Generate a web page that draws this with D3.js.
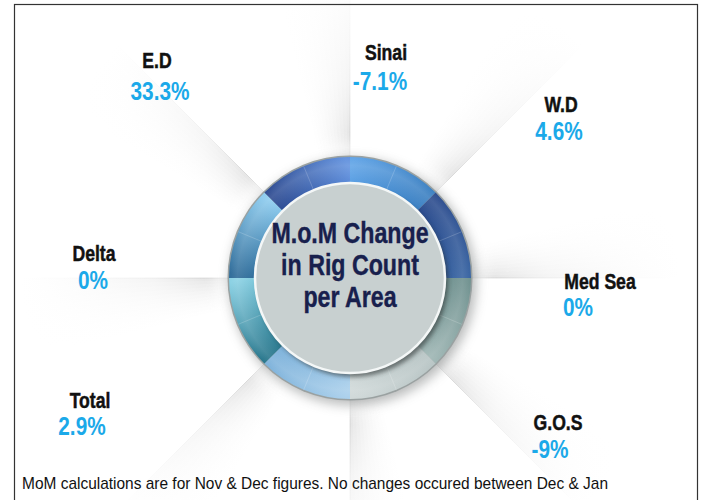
<!DOCTYPE html>
<html>
<head>
<meta charset="utf-8">
<script src="https://cdn.jsdelivr.net/npm/d3@7"></script>
<style>
  body { margin: 0; background: #fff; }
  svg { display: block; font-family: 'Liberation Sans', Arial, sans-serif; }
</style>
</head>
<body>
<div id="chart"></div>
<script>
// data
const areas = ["E.D", "Sinai", "W.D", "Med Sea", "G.O.S", "Total", "Delta"];
const momChange = [33.3, -7.1, 4.6, 0, -9, 2.9, 0];
const ringSectors = ["N-NE", "NE-E", "E-SE", "SE-S", "S-SW", "SW-W", "W-NW", "NW-N"];
const centerTitle = ["M.o.M Change", "in Rig Count", "per Area"];
const footnote = "MoM calculations are for Nov & Dec figures. No changes occured between Dec & Jan";

// layout / styles
const W = 709, H = 500;
const cx = 350, cy = 278, rInner = 95, rOuter = 121;
const narrow = 0.8; // horizontal squeeze to mimic a condensed face
// label anchor: [x, baseline y, value x, value baseline y]
const labelPos = {
    "E.D":     [157, 68, 160, 100],
    "Sinai":   [386, 60, 380, 90],
    "W.D":     [561, 112, 559, 140],
    "Med Sea": [600, 289, 578, 316],
    "G.O.S":   [558, 430, 550, 458],
    "Total":   [90, 408, 82, 435],
    "Delta":   [94, 261, 93, 289]
};
const sectorColors = [
    ["#5fa3e6", "#3a7fc1"],
    ["#2b4b8d", "#3561a0"],
    ["#6e908e", "#9cb4b2"],
    ["#b7c4c4", "#cfd8d8"],
    ["#a9cfeb", "#7cb1da"],
    ["#25758b", "#88d0e3"],
    ["#2c6a98", "#8ccbee"],
    ["#2c4a91", "#6191de"]
];

const svg = d3.select("#chart").append("svg")
    .attr("width", W)
    .attr("height", H);

const defs = svg.append("defs");

// blur filters
defs.append("filter").attr("id", "blur6")
    .attr("x", "-30%").attr("y", "-30%").attr("width", "160%").attr("height", "160%")
    .append("feGaussianBlur").attr("stdDeviation", 6);
defs.append("filter").attr("id", "blur2")
    .attr("x", "-20%").attr("y", "-20%").attr("width", "140%").attr("height", "140%")
    .append("feGaussianBlur").attr("stdDeviation", 2);

// fade for the background beams (centre of the g below)
const beamGrad = defs.append("radialGradient")
    .attr("id", "beamFade")
    .attr("gradientUnits", "userSpaceOnUse")
    .attr("cx", 0).attr("cy", 0).attr("r", 330);
beamGrad.append("stop").attr("offset", 0.36).attr("stop-color", "#8e8e8e").attr("stop-opacity", 0.6);
beamGrad.append("stop").attr("offset", 0.6).attr("stop-color", "#bdbdbd").attr("stop-opacity", 0.3);
beamGrad.append("stop").attr("offset", 1).attr("stop-color", "#dddddd").attr("stop-opacity", 0);

svg.append("rect").attr("width", W).attr("height", H).attr("fill", "#fff");

const g = svg.append("g").attr("transform", `translate(${cx},${cy})`);

const pie = d3.pie().value(1).sort(null);
const sectors = pie(ringSectors);

// background beams along every sector edge
const beamSlices = d3.range(12);
const beamArc = d3.arc().innerRadius(rOuter).outerRadius(420);
sectors.forEach(s => {
    const a = s.startAngle;
    g.append("g").selectAll("path")
        .data(beamSlices)
        .join("path")
        .attr("d", i => beamArc({ startAngle: a - (i + 1) * 0.022, endAngle: a - i * 0.022 }))
        .attr("fill", "url(#beamFade)")
        .attr("fill-opacity", i => 0.5 * Math.pow(1 - i / 12, 1.8));
    // crease line
    g.append("line")
        .attr("x1", Math.sin(a) * rOuter).attr("y1", -Math.cos(a) * rOuter)
        .attr("x2", Math.sin(a) * 420).attr("y2", -Math.cos(a) * 420)
        .attr("stroke", "url(#beamFade)")
        .attr("stroke-width", 1)
        .attr("stroke-opacity", 0.6);
});

// soft halo + shadow behind the ring
g.append("circle").attr("r", rOuter + 16).attr("fill", "#fff").attr("opacity", 0.6).attr("filter", "url(#blur6)");
g.append("circle").attr("r", rOuter + 2).attr("cx", 3).attr("cy", 4)
    .attr("fill", "#6f7373").attr("opacity", 0.5).attr("filter", "url(#blur6)");
g.append("circle").attr("r", rOuter + 1.5).attr("fill", "#9aa1a1");

// ring sectors
const arc = d3.arc().innerRadius(rInner - 4).outerRadius(rOuter);
const rMid = (rInner + rOuter) / 2;
sectors.forEach((s, i) => {
    const gr = defs.append("linearGradient")
        .attr("id", "sec" + i)
        .attr("gradientUnits", "userSpaceOnUse")
        .attr("x1", Math.sin(s.startAngle) * rMid).attr("y1", -Math.cos(s.startAngle) * rMid)
        .attr("x2", Math.sin(s.endAngle) * rMid).attr("y2", -Math.cos(s.endAngle) * rMid);
    gr.append("stop").attr("offset", 0).attr("stop-color", sectorColors[i][0]);
    gr.append("stop").attr("offset", 1).attr("stop-color", sectorColors[i][1]);
});
g.append("g").selectAll("path")
    .data(sectors)
    .join("path")
    .attr("d", arc)
    .attr("fill", (d, i) => `url(#sec${i})`);

// light outer band on each sector
const gloss = defs.append("radialGradient")
    .attr("id", "gloss")
    .attr("gradientUnits", "userSpaceOnUse")
    .attr("cx", 0).attr("cy", 0).attr("r", rOuter);
gloss.append("stop").attr("offset", 0.8).attr("stop-color", "#fff").attr("stop-opacity", 0);
gloss.append("stop").attr("offset", 0.93).attr("stop-color", "#fff").attr("stop-opacity", 0.12);
gloss.append("stop").attr("offset", 1).attr("stop-color", "#fff").attr("stop-opacity", 0.02);
g.append("circle").attr("r", rOuter).attr("fill", "url(#gloss)");

// faint grid lines in the ring
g.append("g").selectAll("line")
    .data(sectors)
    .join("line")
    .attr("x1", d => Math.sin((d.startAngle + d.endAngle) / 2) * rInner)
    .attr("y1", d => -Math.cos((d.startAngle + d.endAngle) / 2) * rInner)
    .attr("x2", d => Math.sin((d.startAngle + d.endAngle) / 2) * rOuter)
    .attr("y2", d => -Math.cos((d.startAngle + d.endAngle) / 2) * rOuter)
    .attr("stroke", "#fff")
    .attr("stroke-opacity", 0.18);

// inner disc with shadow (falls to the lower right)
g.append("circle").attr("r", rInner).attr("cx", 3).attr("cy", 4)
    .attr("fill", "#2f3535").attr("opacity", 0.6).attr("filter", "url(#blur2)");
g.append("circle").attr("r", rInner)
    .attr("fill", "#c8d0d0")
    .attr("stroke", "#f4f7f7")
    .attr("stroke-width", 2.5);

// squeezed text helper
function narrowText(parent, x, y, str) {
    return parent.append("g")
        .attr("transform", `translate(${x},${y}) scale(${narrow},1)`)
        .append("text")
        .attr("text-anchor", "middle")
        .attr("font-weight", "bold")
        .text(str);
}

// center title
centerTitle.forEach((t, i) => {
    narrowText(g, 0, -35 + i * 32, t)
        .attr("fill", "#18204d")
        .attr("stroke", "#18204d")
        .attr("stroke-width", 0.4)
        .attr("font-size", 29);
});

// area labels and values
const labelLayer = svg.append("g");
areas.forEach((a, i) => {
    const p = labelPos[a];
    narrowText(labelLayer, p[0], p[1], a)
        .attr("font-size", 22)
        .attr("fill", "#111")
        .attr("stroke", "#111")
        .attr("stroke-width", 0.5);
    narrowText(labelLayer, p[2], p[3], momChange[i] + "%")
        .attr("font-size", 26)
        .attr("fill", "#1ba9e9");
});

// footnote
svg.append("text")
    .attr("x", 22)
    .attr("y", 489)
    .attr("font-size", 17)
    .attr("fill", "#111")
    .attr("textLength", 586)
    .attr("lengthAdjust", "spacingAndGlyphs")
    .text(footnote);

// frame
svg.append("rect")
    .attr("x", 14.5).attr("y", 4.5)
    .attr("width", 683).attr("height", 520)
    .attr("fill", "none")
    .attr("stroke", "#333")
    .attr("stroke-width", 1.2);
</script>
</body>
</html>
